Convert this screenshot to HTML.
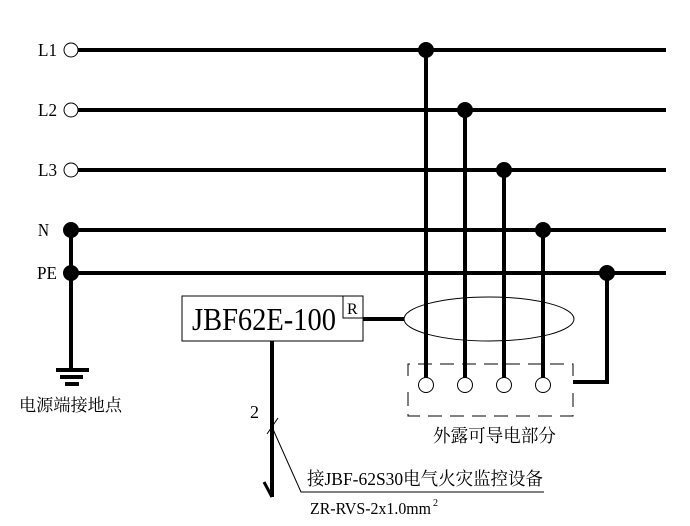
<!DOCTYPE html>
<html><head><meta charset="utf-8"><style>html,body{margin:0;padding:0;background:#fff}svg{display:block}</style></head><body>
<svg width="690" height="526" viewBox="0 0 690 526" xmlns="http://www.w3.org/2000/svg" font-family="Liberation Serif, Noto Serif CJK SC, serif">
<g stroke="#000" stroke-width="4" fill="none">
<line x1="78" y1="50" x2="666" y2="50"/>
<line x1="78" y1="110" x2="666" y2="110"/>
<line x1="78" y1="170" x2="666" y2="170"/>
<line x1="71" y1="230" x2="666" y2="230"/>
<line x1="71" y1="273" x2="666" y2="273"/>
<line x1="71" y1="230" x2="71" y2="370"/>
<line x1="426" y1="50" x2="426" y2="378"/>
<line x1="465" y1="110" x2="465" y2="378"/>
<line x1="504" y1="170" x2="504" y2="378"/>
<line x1="543" y1="230" x2="543" y2="378"/>
<polyline points="607,273 607,382 573,382"/>
<line x1="363" y1="319" x2="404" y2="319"/>
<line x1="272" y1="341" x2="272" y2="497"/>
<line x1="56" y1="370" x2="89" y2="370"/>
<line x1="60" y1="377" x2="83" y2="377"/>
<line x1="65" y1="384" x2="79" y2="384"/>
<line x1="264" y1="482" x2="272" y2="497" stroke-width="3"/>
</g>
<g stroke="#000" stroke-width="1" fill="#fff">
<circle cx="71" cy="50" r="7"/>
<circle cx="71" cy="110" r="7"/>
<circle cx="71" cy="170" r="7"/>
<rect x="182" y="296" width="181" height="45"/>
<rect x="343" y="296" width="20" height="22"/>
<ellipse cx="489" cy="319" rx="85" ry="22" fill="none"/>
<circle cx="426" cy="385" r="7.5"/>
<circle cx="465" cy="385" r="7.5"/>
<circle cx="504" cy="385" r="7.5"/>
<circle cx="543" cy="385" r="7.5"/>
<polyline points="408,376 408,364 573,364 573,376" fill="none" stroke-dasharray="14,8"/>
<polyline points="408,392 408,416 573,416 573,392" fill="none" stroke-dasharray="14,8"/>
<line x1="267" y1="434" x2="278" y2="418"/>
<polyline points="272,427 301,492 544,492" fill="none"/>
</g>
<g fill="#000">
<circle cx="426" cy="50" r="8"/>
<circle cx="465" cy="110" r="8"/>
<circle cx="504" cy="170" r="8"/>
<circle cx="543" cy="230" r="8"/>
<circle cx="607" cy="273" r="8"/>
<circle cx="71" cy="230" r="8"/>
<circle cx="71" cy="273" r="8"/>
</g>
<g fill="#000" font-size="18">
<text x="38" y="56" textLength="19" lengthAdjust="spacingAndGlyphs">L1</text>
<text x="38" y="116" textLength="19" lengthAdjust="spacingAndGlyphs">L2</text>
<text x="38" y="176" textLength="19" lengthAdjust="spacingAndGlyphs">L3</text>
<text x="38" y="236" textLength="11" lengthAdjust="spacingAndGlyphs">N</text>
<text x="37" y="279" textLength="20" lengthAdjust="spacingAndGlyphs">PE</text>
<text x="250" y="418">2</text>
<text x="192" y="330" font-size="32" textLength="144" lengthAdjust="spacingAndGlyphs">JBF62E-100</text>
<text x="347" y="314" font-size="16">R</text>
<text x="19" y="411" font-size="17" textLength="103" lengthAdjust="spacingAndGlyphs">电源端接地点</text>
<text x="433" y="442" font-size="18" textLength="123" lengthAdjust="spacingAndGlyphs">外露可导电部分</text>
<text x="307" y="485" font-size="18" textLength="236" lengthAdjust="spacingAndGlyphs">接JBF-62S30电气火灾监控设备</text>
<text x="310" y="514" font-size="17" textLength="121" lengthAdjust="spacingAndGlyphs">ZR-RVS-2x1.0mm</text>
<text x="433" y="506" font-size="10">2</text>
</g>
</svg>
</body></html>
